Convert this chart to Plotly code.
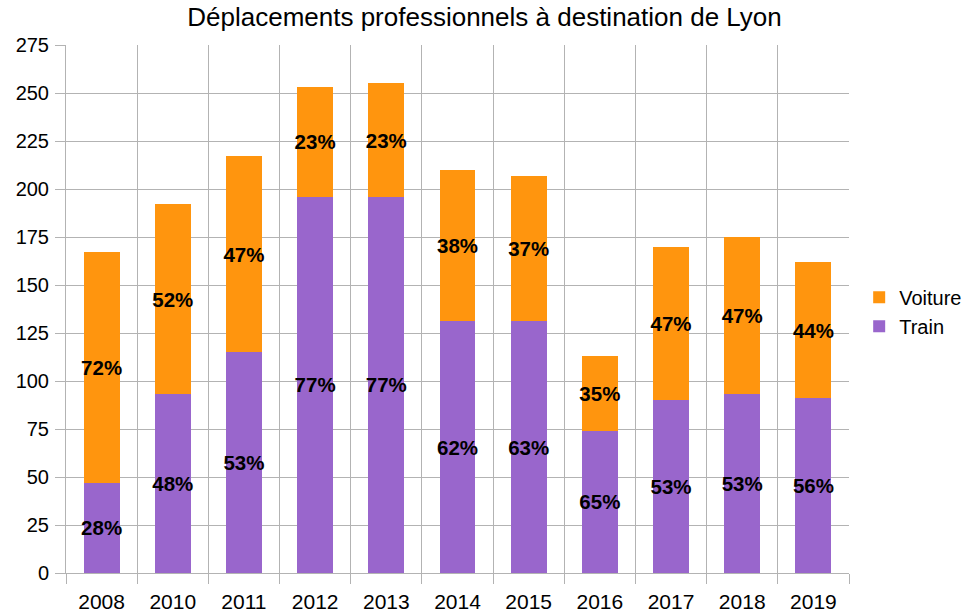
import plotly.graph_objects as go

years = ["2008", "2010", "2011", "2012", "2013", "2014", "2015", "2016", "2017", "2018", "2019"]
train = [47, 93, 115, 196, 196, 131, 131, 74, 90, 93, 91]
voiture = [120, 99, 102, 57, 59, 79, 76, 39, 80, 82, 71]
train_labels = ["28%", "48%", "53%", "77%", "77%", "62%", "63%", "65%", "53%", "53%", "56%"]
voiture_labels = ["72%", "52%", "47%", "23%", "23%", "38%", "37%", "35%", "47%", "47%", "44%"]
y_ticks = list(range(0, 276, 25))

FONT = "Liberation Sans, Arial, sans-serif"
label_font = dict(family=FONT, size=20.5, color="black", weight="bold")

fig = go.Figure()
fig.add_trace(go.Bar(
    x=years, y=train, name="Train", marker=dict(color="#9966CC", line=dict(width=0)),
    text=train_labels, textposition="inside", insidetextanchor="middle",
    textfont=label_font, textangle=0, cliponaxis=False, constraintext="none",
))
fig.add_trace(go.Bar(
    x=years, y=voiture, name="Voiture", marker=dict(color="#FF950E", line=dict(width=0)),
    text=voiture_labels, textposition="inside", insidetextanchor="middle",
    textfont=label_font, textangle=0, cliponaxis=False, constraintext="none",
))

fig.update_layout(
    barmode="stack",
    bargap=0.495,
    width=969, height=613,
    margin=dict(l=66, r=120, t=45, b=40, autoexpand=False),
    paper_bgcolor="white", plot_bgcolor="white",
    font=dict(family=FONT, size=20, color="black"),
    uniformtext=dict(minsize=20, mode="show"),
    title=dict(text="Déplacements professionnels à destination de Lyon",
               x=0.5, xanchor="center", y=0.972, yanchor="middle",
               font=dict(family=FONT, size=26, color="black")),
    legend=dict(x=1.013, xanchor="left", y=0.495, yanchor="middle",
                traceorder="reversed", font=dict(family=FONT, size=20),
                itemwidth=30, tracegroupgap=0),
    showlegend=True,
)
fig.update_xaxes(
    type="category", tickson="boundaries", ticks="outside", ticklen=10,
    tickcolor="#b3b3b3", showgrid=True, gridcolor="#b3b3b3", gridwidth=1,
    showline=True, linecolor="#b3b3b3", linewidth=1, mirror=False,
    tickfont=dict(family=FONT, size=21), ticklabelstandoff=10, automargin=False,
)
fig.update_yaxes(
    range=[0, 275], tickvals=y_ticks, ticks="outside", ticklen=10,
    tickcolor="#b3b3b3", showgrid=True, gridcolor="#b3b3b3", gridwidth=1,
    showline=True, linecolor="#b3b3b3", linewidth=1, zeroline=False,
    tickfont=dict(family=FONT, size=20), ticklabelstandoff=2, automargin=False,
)

fig.write_html("out.html", config={"displayModeBar": False},
               post_script="document.body.style.margin='0';document.body.style.overflow='hidden';")
